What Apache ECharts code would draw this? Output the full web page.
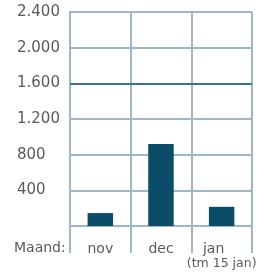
<!DOCTYPE html>
<html>
<head>
<meta charset="utf-8">
<script src="https://cdn.jsdelivr.net/npm/echarts@6/dist/echarts.min.js"></script>
<style>
  html, body { margin: 0; padding: 0; background: #fff; }
  #main { width: 259px; height: 276px; }
</style>
</head>
<body>
<div id="main"></div>
<script>
var months = ['nov', 'dec', 'jan'];
var amounts = [145, 920, 215];
var yTicks = [0, 400, 800, 1200, 1600, 2000, 2400];
var targetLine = 1600;

var myChart = echarts.init(document.getElementById('main'));

var gridColor = '#9db7c5';
var textColor = '#5a5a5a';
var font = 'DejaVu Sans';

var option = {
  animation: false,
  grid: { left: 70, right: 4, top: 12, bottom: 50 },
  graphic: [{
    type: 'text',
    left: 14,
    top: 241,
    style: { text: 'Maand:', fill: textColor, font: '14px ' + font }
  }],
  xAxis: {
    type: 'category',
    data: months,
    axisLine: { show: false },
    axisTick: { show: true, interval: 0, length: 27, alignWithLabel: false, lineStyle: { color: gridColor, width: 2 } },
    splitLine: { show: true, interval: 0, lineStyle: { color: gridColor, width: 2 } },
    axisLabel: {
      interval: 0,
      color: textColor,
      fontFamily: font,
      fontSize: 14,
      margin: 16,
      formatter: function (v) {
        return v === 'jan' ? '{j|jan}\n{s|(tm 15 jan)}' : v;
      },
      rich: {
        j: { fontSize: 14, fontFamily: font, color: textColor, padding: [0, 16, 0, 0] },
        s: { fontSize: 12.5, fontFamily: font, color: textColor, padding: [1, 0, 0, 0] }
      }
    }
  },
  yAxis: {
    type: 'value',
    min: yTicks[0],
    max: yTicks[yTicks.length - 1],
    interval: yTicks[1] - yTicks[0],
    axisLine: { show: true, lineStyle: { color: gridColor, width: 2 } },
    axisTick: { show: false },
    splitLine: { show: true, lineStyle: { color: gridColor, width: 2 } },
    axisLabel: {
      color: textColor,
      fontFamily: font,
      fontSize: 15,
      align: 'left',
      margin: 53,
      formatter: function (v) {
        if (v === 0) return '';
        return String(v).replace(/\B(?=(\d{3})+(?!\d))/g, '.');
      }
    }
  },
  series: [{
    type: 'bar',
    data: amounts,
    barWidth: '42%',
    itemStyle: { color: '#0b4d68' },
    markLine: {
      silent: true,
      symbol: 'none',
      label: { show: false },
      lineStyle: { color: '#1a5f7e', width: 1.5, type: 'solid' },
      data: [{ yAxis: targetLine }]
    }
  }]
};

myChart.setOption(option);
</script>
</body>
</html>
